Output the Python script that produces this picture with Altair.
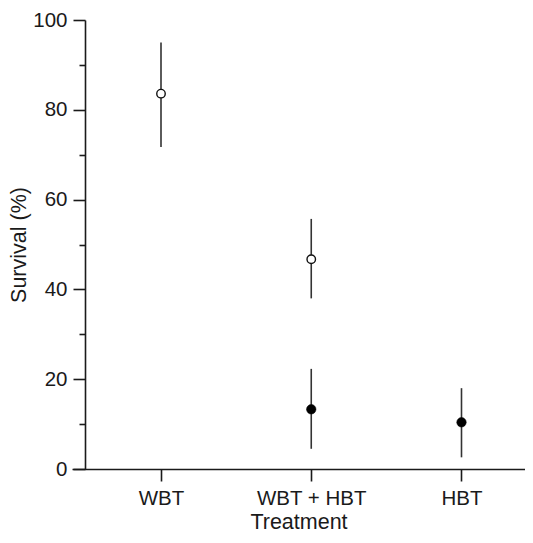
import altair as alt
import pandas as pd

treatment = ["WBT", "WBT + HBT", "WBT + HBT", "HBT"]
group = ["open", "open", "filled", "filled"]
mean = [83.6, 46.7, 13.3, 10.4]
lower = [71.7, 38.0, 4.5, 2.6]
upper = [95.0, 55.7, 22.3, 18.0]
categories = ["WBT", "WBT + HBT", "HBT"]
y_ticks = [0, 10, 20, 30, 40, 50, 60, 70, 80, 90, 100]

df = pd.DataFrame({"treatment": treatment, "group": group, "mean": mean,
                   "lower": lower, "upper": upper})

FONT = "Liberation Sans"
INK = "#1a1a1a"

x = alt.X("treatment:N", sort=categories, title="Treatment",
          scale=alt.Scale(type="point", domain=categories, padding=0.5075, align=0.5836),
          axis=alt.Axis(labelAngle=0, labelFontSize=20.5, titleFontSize=21.5,
                        labelPadding=7, titlePadding=3, tickSize=12,
                        domainColor=INK, tickColor=INK, domainWidth=1.6, tickWidth=1.6,
                        labelColor=INK, titleColor=INK, labelFont=FONT, titleFont=FONT,
                        titleFontWeight="normal", grid=False))

y_scale = alt.Scale(domain=[0, 100], nice=False, zero=True)
y_axis = alt.Axis(values=y_ticks, offset=-13, grid=False,
                  labelExpr="datum.value % 20 === 0 ? datum.label : ''",
                  tickSize={"condition": {"test": "datum.value % 20 === 0", "value": 12}, "value": 6},
                  labelFontSize=20.5, titleFontSize=21.5, labelPadding=6, titlePadding=2,
                  domainColor=INK, tickColor=INK, domainWidth=1.6, tickWidth=1.6,
                  labelColor=INK, titleColor=INK, labelFont=FONT, titleFont=FONT,
                  titleFontWeight="normal")

base = alt.Chart(df)

bars = base.mark_rule(color="#333333", strokeWidth=1.6).encode(
    x=x,
    y=alt.Y("lower:Q", scale=y_scale, axis=y_axis, title="Survival (%)"),
    y2="upper:Q",
)

open_pts = base.transform_filter(alt.datum.group == "open").mark_point(
    shape="circle", filled=True, fill="white", stroke="#111111", strokeWidth=1.4,
    size=72, opacity=1).encode(x=x, y=alt.Y("mean:Q", scale=y_scale))

filled_pts = base.transform_filter(alt.datum.group == "filled").mark_point(
    shape="circle", filled=True, fill="#000000", stroke="#000000", strokeWidth=0.5,
    size=90, opacity=1).encode(x=x, y=alt.Y("mean:Q", scale=y_scale))

chart = alt.layer(bars, open_pts, filled_pts).properties(
    width=453, height=449,
    background="white",
    autosize=alt.AutoSizeParams(type="none"),
    padding={"left": 64, "top": 12, "right": 0, "bottom": 66},
).configure_view(strokeWidth=0, stroke="transparent")

chart.save("out.html", embed_options={"renderer": "svg", "actions": False})
